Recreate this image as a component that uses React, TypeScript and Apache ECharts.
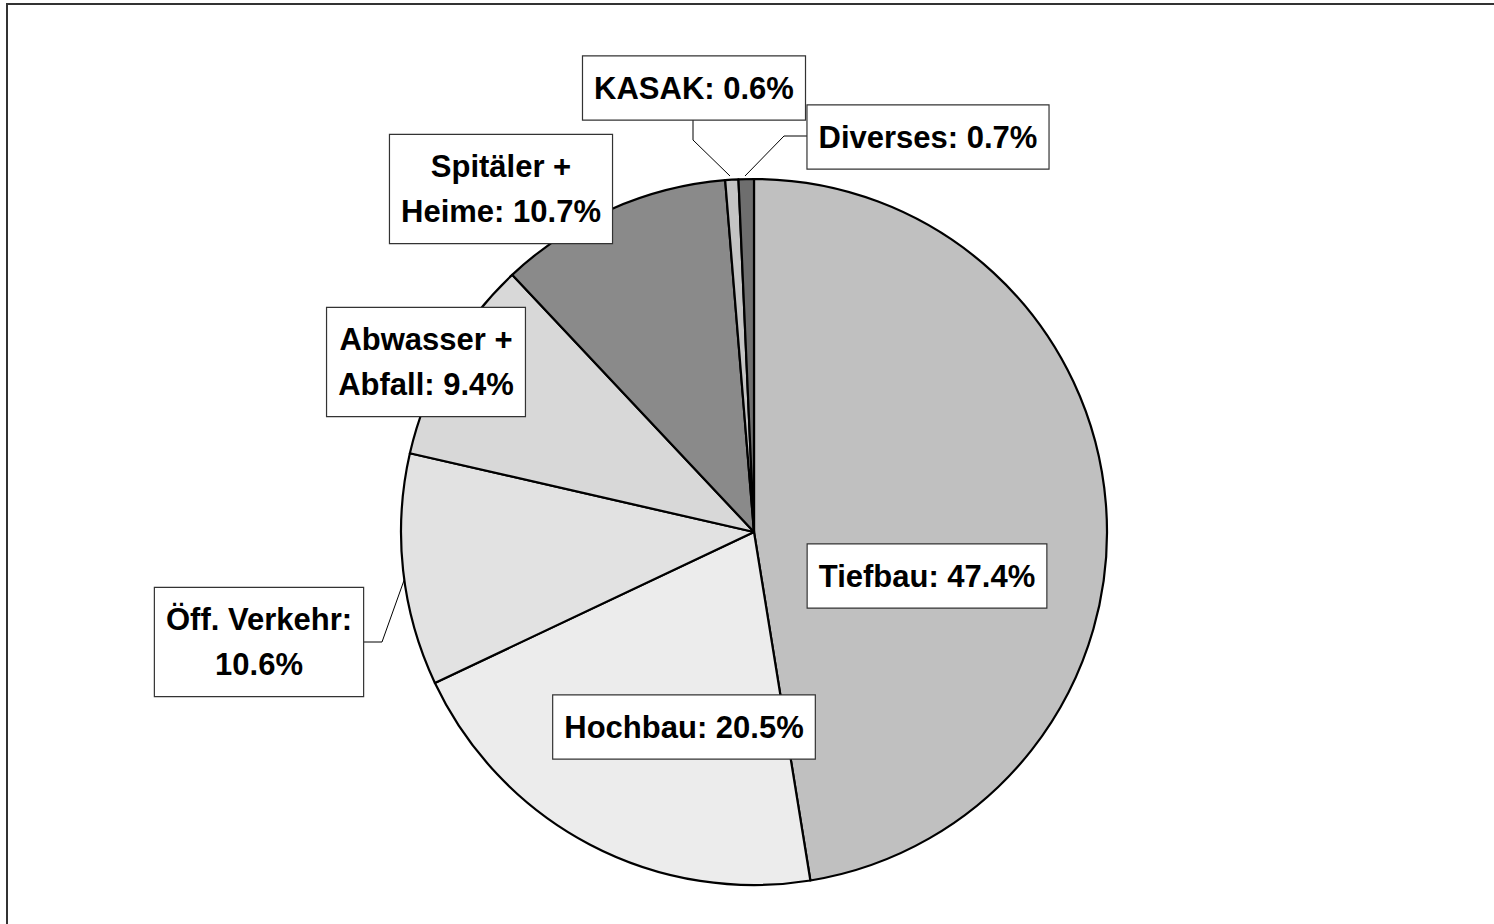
import React, { useEffect, useRef } from "react";
import * as echarts from "echarts";

const categories = [
  "Tiefbau",
  "Hochbau",
  "Öff. Verkehr",
  "Abwasser +\nAbfall",
  "Spitäler +\nHeime",
  "KASAK",
  "Diverses",
];
const shares = [47.4, 20.5, 10.6, 9.4, 10.7, 0.6, 0.7];
const sliceColors = ["#c0c0c0", "#ececec", "#e2e2e2", "#d8d8d8", "#8a8a8a", "#c4c4c4", "#6e6e6e"];
const breakAfterColon = [false, false, true, false, false, false, false];

// label box centres (px) and leader lines
const labelCentres: [number, number][] = [
  [927, 576],
  [684, 727],
  [259, 642],
  [426, 362],
  [501, 189],
  [694, 88],
  [928, 137],
];
const leaderLines: ([number, number][] | null)[] = [
  null,
  null,
  [[407, 572], [382, 642], [361, 642]],
  null,
  null,
  [[730, 176], [693, 140], [693, 120]],
  [[745, 176], [784, 136], [807, 136]],
];

export default function App() {
  const ref = useRef<HTMLDivElement>(null);
  useEffect(() => {
    if (!ref.current) return;
    const chart = echarts.init(ref.current, null, { renderer: "svg" });
    const data = categories.map((name, i) => ({
      name,
      value: shares[i],
      itemStyle: { color: sliceColors[i] },
      labelLine: { show: !!leaderLines[i] },
    }));
    chart.setOption({
      animation: false,
      backgroundColor: "#ffffff",
      graphic: [
        {
          type: "rect",
          shape: { x: 7, y: 4, width: 2000, height: 2000 },
          style: { fill: "none", stroke: "#333", lineWidth: 2 },
          silent: true,
        },
      ],
      series: [
        {
          type: "pie",
          center: [754, 532],
          radius: 353,
          startAngle: 90,
          clockwise: true,
          avoidLabelOverlap: false,
          data,
          itemStyle: { borderColor: "#000", borderWidth: 2.2 },
          label: {
            show: true,
            position: "outside",
            formatter: (p: any) =>
              `${p.name}:${breakAfterColon[p.dataIndex] ? "\n" : " "}${p.value.toFixed(1)}%`,
            fontFamily: "Liberation Sans, Arial, sans-serif",
            fontWeight: "bold",
            fontSize: 31,
            lineHeight: 45,
            color: "#000",
            align: "center",
            backgroundColor: "#fff",
            borderColor: "#333",
            borderWidth: 1.2,
            padding: [9, 11],
          },
          labelLine: {
            show: true,
            lineStyle: { color: "#000", width: 1 },
          },
          labelLayout: (params: any) => {
            const i = params.dataIndex;
            const [x, y] = labelCentres[i];
            const res: any = { x, y, align: "center", verticalAlign: "middle" };
            if (leaderLines[i]) res.labelLinePoints = leaderLines[i];
            return res;
          },
        },
      ],
    });
    return () => chart.dispose();
  }, []);
  return (
    <div
      ref={ref}
      style={{ position: "fixed", left: 0, top: 0, width: 1494, height: 924 }}
    />
  );
}
